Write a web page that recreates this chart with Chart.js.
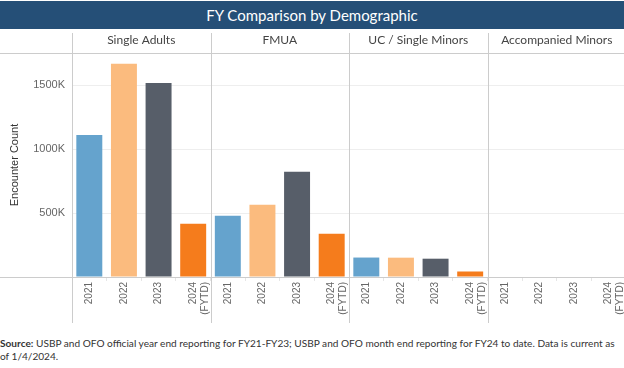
<!DOCTYPE html>
<html>
<head>
<meta charset="utf-8">
<script src="https://cdn.jsdelivr.net/npm/chart.js@4"></script>
<style>
  html, body { margin: 0; padding: 0; width: 624px; height: 368px; overflow: hidden; background: #fff; }
  #hdr { position: absolute; left: 0; top: 1px; width: 624px; height: 28px; background: #254f77;
         color: #fff; font-family: Lato, "Open Sans", sans-serif; font-size: 15px; line-height: 28px; text-align: center; }
  #wrap { position: absolute; left: 0; top: 29px; width: 626px; height: 297px; }
  #foot { position: absolute; left: 0; top: 337px; width: 624px; font-family: Lato, "Open Sans", sans-serif;
          font-size: 10.1px; line-height: 13px; color: #333; white-space: nowrap; }
</style>
</head>
<body>
<div id="hdr">FY Comparison by Demographic</div>
<div id="wrap"><canvas id="c" width="626" height="297"></canvas></div>
<div id="foot"><b>Source:</b> USBP and OFO official year end reporting for FY21-FY23; USBP and OFO month end reporting for FY24 to date. Data is current as<br>of 1/4/2024.</div>
<script>
const facets = ['Single Adults', 'FMUA', 'UC / Single Minors', 'Accompanied Minors'];
const years = ['2021', '2022', '2023', ['2024', '(FYTD)']];
const singleAdults = [1109000, 1666000, 1516000, 416000];
const fmua = [479000, 565000, 823000, 338000];
const ucSingleMinors = [152000, 151000, 143000, 43000];
const accompaniedMinors = [0, 0, 0, 0];
const yTicks = [500000, 1000000, 1500000];
const yearColors = ['#65a3cd', '#fbbb7e', '#575e69', '#f57c1c'];

const labels = [];
const values = [];
const colors = [];
[singleAdults, fmua, ucSingleMinors, accompaniedMinors].forEach(arr => {
  arr.forEach((v, i) => { labels.push(years[i]); values.push(v); colors.push(yearColors[i]); });
});

const linesPlugin = {
  id: 'panes',
  afterDraw(chart) {
    const ctx = chart.ctx;
    const a = chart.chartArea;
    const xs = chart.scales.x;
    ctx.save();
    ctx.strokeStyle = '#cccccc';
    ctx.lineWidth = 1;
    ctx.beginPath();
    const t = Math.round(a.top) + 0.5, b = Math.round(a.bottom) + 0.5;
    ctx.moveTo(0, t); ctx.lineTo(chart.width, t);
    ctx.moveTo(0, b); ctx.lineTo(chart.width, b);
    const per = years.length;
    for (let i = 0; i < facets.length; i++) {
      let x;
      if (i === 0) x = xs.left;
      else x = (xs.getPixelForValue(i * per - 1) + xs.getPixelForValue(i * per)) / 2;
      x = Math.round(x) + 0.5;
      ctx.moveTo(x, 4); ctx.lineTo(x, 294);
    }
    ctx.stroke();
    ctx.restore();
  }
};

new Chart(document.getElementById('c'), {
  type: 'bar',
  data: {
    labels: labels,
    datasets: [{ data: values, backgroundColor: colors, barPercentage: 0.75, categoryPercentage: 1 }]
  },
  options: {
    responsive: false,
    animation: false,
    layout: { padding: 0 },
    plugins: { legend: { display: false }, tooltip: { enabled: false }, title: { display: false } },
    scales: {
      x: {
        type: 'category',
        position: 'bottom',
        offset: true,
        afterFit: s => { s.height = 49; s.paddingLeft = 0; s.paddingRight = 0; },
        grid: { display: true, drawOnChartArea: false, offset: true, tickLength: 4, color: '#e6e6e6' },
        border: { display: false },
        ticks: { autoSkip: false, maxRotation: 90, minRotation: 90, padding: 1,
                 font: { family: '"Liberation Sans", Arial, sans-serif', size: 10 }, color: '#666' }
      },
      x2: {
        type: 'category',
        position: 'top',
        labels: facets,
        offset: true,
        afterFit: s => { s.height = 24; s.paddingLeft = 0; s.paddingRight = 0; },
        grid: { display: false, drawTicks: false },
        border: { display: false },
        ticks: { padding: 6, autoSkip: false, maxRotation: 0,
                 font: { family: 'Lato, "Open Sans", sans-serif', size: 12 }, color: '#444' }
      },
      y: {
        min: 0,
        max: 1750000,
        afterFit: s => { s.width = 72; s.paddingTop = 0; s.paddingBottom = 0; },
        afterBuildTicks: s => { s.ticks = [0].concat(yTicks).map(v => ({ value: v })); },
        grid: { drawTicks: false, color: ctx => (ctx.tick && ctx.tick.value === 0) ? 'rgba(0,0,0,0)' : '#eeeeee' },
        border: { display: false },
        title: { display: true, text: 'Encounter Count', padding: { top: 8, bottom: 0 },
                 font: { family: '"Liberation Sans", Arial, sans-serif', size: 11 }, color: '#333' },
        ticks: { padding: 7, callback: v => v === 0 ? '' : (v / 1000) + 'K',
                 font: { family: '"Liberation Sans", Arial, sans-serif', size: 11 }, color: '#666' }
      }
    }
  },
  plugins: [linesPlugin]
});
</script>
</body>
</html>
